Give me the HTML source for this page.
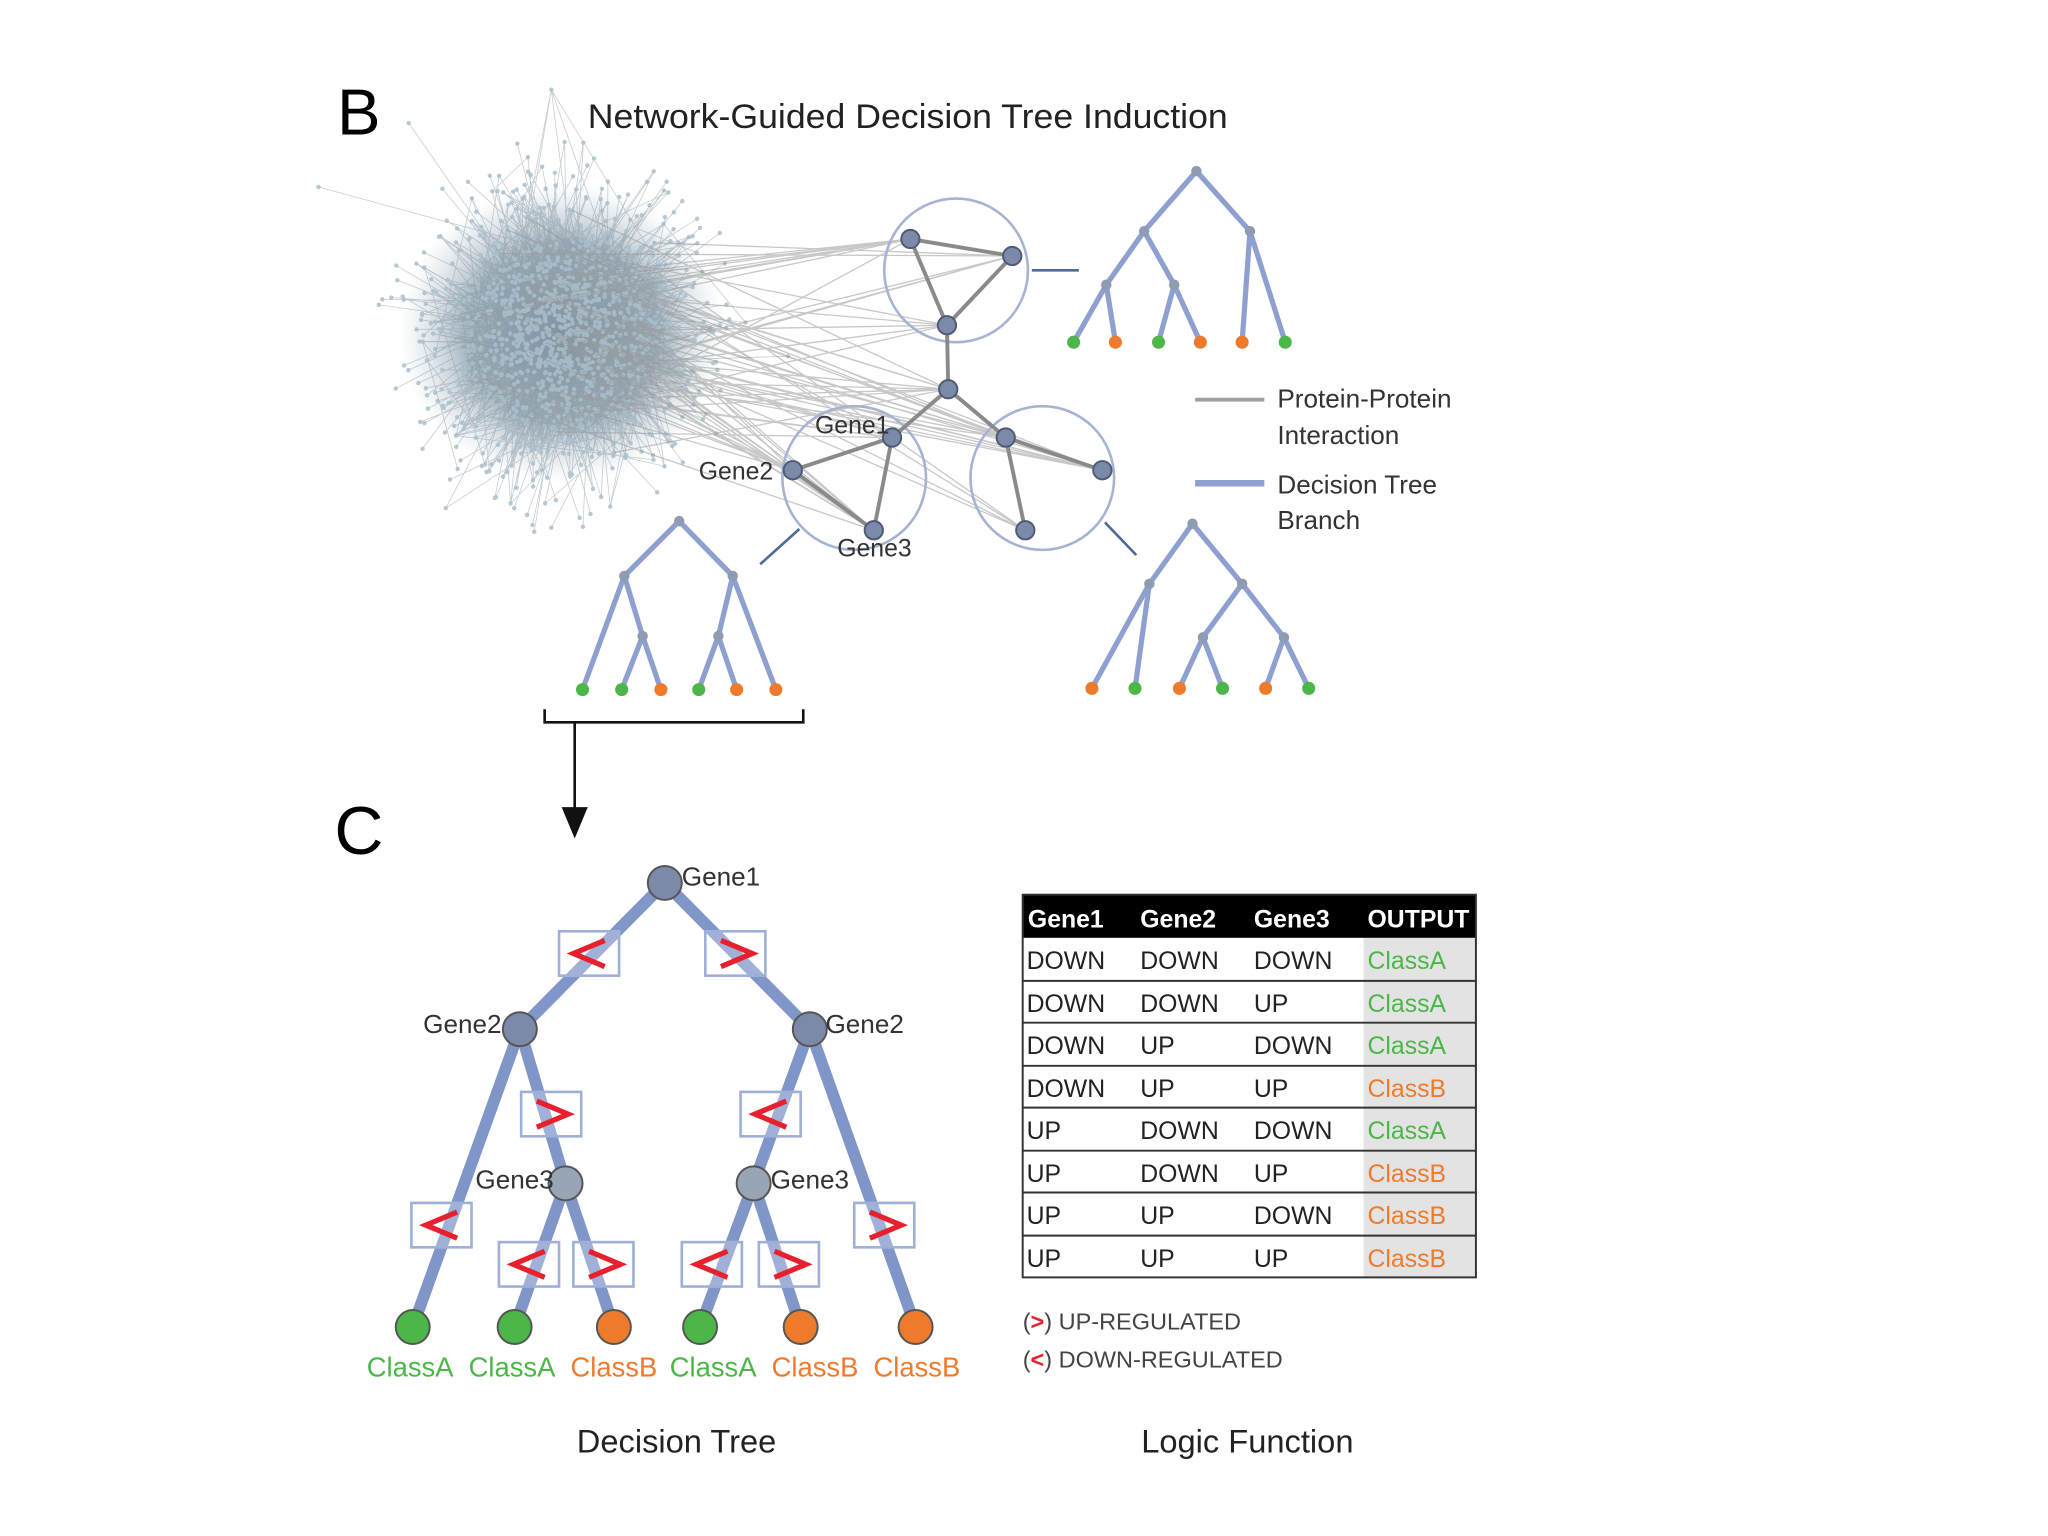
<!DOCTYPE html>
<html><head><meta charset="utf-8"><style>
html,body{margin:0;padding:0;background:#fff;}
svg{display:block;}
text{font-family:"Liberation Sans",sans-serif;}
</style></head><body>
<svg id="s" width="2048" height="1536" viewBox="0 0 1568 1176" xmlns="http://www.w3.org/2000/svg">
<defs>
<radialGradient id="cg" cx="50%" cy="50%" r="50%">
<stop offset="0" stop-color="#8a9aa8"/><stop offset="0.6" stop-color="#9fb1bd" stop-opacity="0.9"/><stop offset="1" stop-color="#c8d4dc" stop-opacity="0"/>
</radialGradient>
</defs>
<rect width="1568" height="1176" fill="#fff"/>
<text x="258" y="103" font-size="50">B</text>
<text x="450" y="98" font-size="26" fill="#222" textLength="490" lengthAdjust="spacingAndGlyphs">Network-Guided Decision Tree Induction</text>
<ellipse cx="430" cy="255" rx="125" ry="115" fill="url(#cg)"/>
<g id="cloud"></g>
<g id="links" stroke="#9a9a9a" stroke-width="1" opacity="0.55"></g>
<g fill="none" stroke="#a7b3d3" stroke-width="2">
<circle cx="732" cy="207" r="55"/><circle cx="654" cy="366" r="55"/><circle cx="798" cy="366" r="55"/>
</g>
<g stroke="#8a8a8a" stroke-width="3">
<line x1="697" y1="183" x2="775" y2="196"/><line x1="697" y1="183" x2="725" y2="249"/><line x1="775" y1="196" x2="725" y2="249"/>
<line x1="725" y1="249" x2="726" y2="298"/><line x1="726" y1="298" x2="683" y2="335"/><line x1="726" y1="298" x2="770" y2="335"/>
<line x1="683" y1="335" x2="607" y2="360"/><line x1="607" y1="360" x2="669" y2="406"/><line x1="683" y1="335" x2="669" y2="406"/>
<line x1="770" y1="335" x2="844" y2="360"/><line x1="770" y1="335" x2="785" y2="406"/>
</g>
<g fill="#7b8aa8" stroke="#4e5a78" stroke-width="1.5">
<circle cx="697" cy="183" r="7"/><circle cx="775" cy="196" r="7"/><circle cx="725" cy="249" r="7"/><circle cx="726" cy="298" r="7"/>
<circle cx="683" cy="335" r="7"/><circle cx="607" cy="360" r="7"/><circle cx="669" cy="406" r="7"/>
<circle cx="770" cy="335" r="7"/><circle cx="844" cy="360" r="7"/><circle cx="785" cy="406" r="7"/>
</g>
<g font-size="19" fill="#333">
<text x="624" y="332">Gene1</text><text x="535" y="367">Gene2</text><text x="641" y="426">Gene3</text>
</g>
<g stroke="#4e6a96" stroke-width="2">
<line x1="790" y1="207" x2="826" y2="207"/><line x1="612" y1="405" x2="582" y2="432"/><line x1="846" y1="400" x2="870" y2="425"/>
</g>
<g stroke="#8da0cf" stroke-width="4" stroke-linecap="round" fill="none">
<path d="M916 131L876 177M916 131L957 177M876 177L847 218M876 177L899 218M847 218L822 262M847 218L854 262M899 218L887 262M899 218L919 262M957 177L951 262M957 177L984 262"/>
<path d="M520 399L478 441M520 399L561 441M478 441L446 528M478 441L492 487M492 487L476 528M492 487L506 528M561 441L594 528M561 441L550 487M550 487L535 528M550 487L564 528"/>
<path d="M913 401L880 447M913 401L951 447M880 447L836 527M880 447L869 527M951 447L921 488M951 447L983 488M921 488L903 527M921 488L936 527M983 488L969 527M983 488L1002 527"/>
</g>
<g fill="#8e9bb0">
<circle cx="916" cy="131" r="4"/><circle cx="876" cy="177" r="4"/><circle cx="957" cy="177" r="4"/><circle cx="847" cy="218" r="4"/><circle cx="899" cy="218" r="4"/>
<circle cx="520" cy="399" r="4"/><circle cx="478" cy="441" r="4"/><circle cx="561" cy="441" r="4"/><circle cx="492" cy="487" r="4"/><circle cx="550" cy="487" r="4"/>
<circle cx="913" cy="401" r="4"/><circle cx="880" cy="447" r="4"/><circle cx="951" cy="447" r="4"/><circle cx="921" cy="488" r="4"/><circle cx="983" cy="488" r="4"/>
</g>
<g>
<circle cx="822" cy="262" r="5" fill="#4cb648"/><circle cx="854" cy="262" r="5" fill="#ee7a2c"/><circle cx="887" cy="262" r="5" fill="#4cb648"/><circle cx="919" cy="262" r="5" fill="#ee7a2c"/><circle cx="951" cy="262" r="5" fill="#ee7a2c"/><circle cx="984" cy="262" r="5" fill="#4cb648"/>
<circle cx="446" cy="528" r="5" fill="#4cb648"/><circle cx="476" cy="528" r="5" fill="#4cb648"/><circle cx="506" cy="528" r="5" fill="#ee7a2c"/><circle cx="535" cy="528" r="5" fill="#4cb648"/><circle cx="564" cy="528" r="5" fill="#ee7a2c"/><circle cx="594" cy="528" r="5" fill="#ee7a2c"/>
<circle cx="836" cy="527" r="5" fill="#ee7a2c"/><circle cx="869" cy="527" r="5" fill="#4cb648"/><circle cx="903" cy="527" r="5" fill="#ee7a2c"/><circle cx="936" cy="527" r="5" fill="#4cb648"/><circle cx="969" cy="527" r="5" fill="#ee7a2c"/><circle cx="1002" cy="527" r="5" fill="#4cb648"/>
</g>
<line x1="915" y1="306" x2="968" y2="306" stroke="#a0a0a0" stroke-width="3"/>
<line x1="915" y1="370" x2="968" y2="370" stroke="#8da0cf" stroke-width="5"/>
<g font-size="20" fill="#333">
<text x="978" y="312">Protein-Protein</text><text x="978" y="340">Interaction</text>
<text x="978" y="378">Decision Tree</text><text x="978" y="405">Branch</text>
</g>
<path d="M417 543V553H615V543" fill="none" stroke="#111" stroke-width="2"/>
<line x1="440" y1="553" x2="440" y2="622" stroke="#111" stroke-width="2"/>
<path d="M430 618L440 642L450 618Z" fill="#111"/>
<text x="256" y="654" font-size="52">C</text>
<g stroke="#8096c8" stroke-width="9" stroke-linecap="round">
<line x1="509" y1="676" x2="398" y2="788"/><line x1="509" y1="676" x2="620" y2="788"/>
<line x1="398" y1="788" x2="316" y2="1016"/><line x1="398" y1="788" x2="433" y2="906"/>
<line x1="433" y1="906" x2="394" y2="1016"/><line x1="433" y1="906" x2="470" y2="1016"/>
<line x1="620" y1="788" x2="577" y2="906"/><line x1="620" y1="788" x2="701" y2="1016"/>
<line x1="577" y1="906" x2="536" y2="1016"/><line x1="577" y1="906" x2="613" y2="1016"/>
</g>
<g fill="#fff" fill-opacity="0.25" stroke="#9eb0d8" stroke-width="2">
<rect x="428" y="713" width="46" height="34"/><rect x="540" y="713" width="46" height="34"/>
<rect x="399" y="836" width="46" height="34"/><rect x="567" y="836" width="46" height="34"/>
<rect x="315" y="921" width="46" height="34"/><rect x="654" y="921" width="46" height="34"/>
<rect x="382" y="951" width="46" height="34"/><rect x="439" y="951" width="46" height="34"/>
<rect x="522" y="951" width="46" height="34"/><rect x="581" y="951" width="46" height="34"/>
</g>
<g fill="none" stroke="#e8202e" stroke-width="4">
<path d="M463 720L439 730L463 740"/><path d="M552 720L576 730L552 740"/>
<path d="M411 843L435 853L411 863"/><path d="M602 843L578 853L602 863"/>
<path d="M350 928L326 938L350 948"/><path d="M666 928L690 938L666 948"/>
<path d="M417 958L393 968L417 978"/><path d="M451 958L475 968L451 978"/>
<path d="M557 958L533 968L557 978"/><path d="M593 958L617 968L593 978"/>
</g>
<g stroke="#555" stroke-width="1.5">
<circle cx="509" cy="676" r="13" fill="#7b8aa8"/><circle cx="398" cy="788" r="13" fill="#7b8aa8"/><circle cx="620" cy="788" r="13" fill="#7b8aa8"/>
<circle cx="433" cy="906" r="13" fill="#98a5b5"/><circle cx="577" cy="906" r="13" fill="#98a5b5"/>
<circle cx="316" cy="1016" r="13" fill="#4cb648"/><circle cx="394" cy="1016" r="13" fill="#4cb648"/><circle cx="470" cy="1016" r="13" fill="#ee7a2c"/>
<circle cx="536" cy="1016" r="13" fill="#4cb648"/><circle cx="613" cy="1016" r="13" fill="#ee7a2c"/><circle cx="701" cy="1016" r="13" fill="#ee7a2c"/>
</g>
<g font-size="20" fill="#333">
<text x="522" y="678">Gene1</text><text x="324" y="791">Gene2</text><text x="632" y="791">Gene2</text>
<text x="364" y="910">Gene3</text><text x="590" y="910">Gene3</text>
</g>
<g font-size="21" text-anchor="middle">
<text x="314" y="1054" fill="#4cb648">ClassA</text><text x="392" y="1054" fill="#4cb648">ClassA</text><text x="470" y="1054" fill="#ee7a2c">ClassB</text>
<text x="546" y="1054" fill="#4cb648">ClassA</text><text x="624" y="1054" fill="#ee7a2c">ClassB</text><text x="702" y="1054" fill="#ee7a2c">ClassB</text>
</g>
<rect x="1044" y="718" width="86" height="260" fill="#e3e3e3"/>
<rect x="783" y="685" width="347" height="33" fill="#000"/>
<g stroke="#333" stroke-width="1.5" fill="none">
<rect x="783" y="685" width="347" height="293"/>
<path d="M783 751H1130M783 783H1130M783 816H1130M783 848H1130M783 881H1130M783 913H1130M783 946H1130"/>
</g>
<g font-size="19" font-weight="bold" fill="#fff">
<text x="787" y="710">Gene1</text><text x="873" y="710">Gene2</text><text x="960" y="710">Gene3</text><text x="1047" y="710">OUTPUT</text>
</g>
<g font-size="19" fill="#222">
<text x="786" y="742">DOWN</text><text x="873" y="742">DOWN</text><text x="960" y="742">DOWN</text>
<text x="786" y="775">DOWN</text><text x="873" y="775">DOWN</text><text x="960" y="775">UP</text>
<text x="786" y="807">DOWN</text><text x="873" y="807">UP</text><text x="960" y="807">DOWN</text>
<text x="786" y="840">DOWN</text><text x="873" y="840">UP</text><text x="960" y="840">UP</text>
<text x="786" y="872">UP</text><text x="873" y="872">DOWN</text><text x="960" y="872">DOWN</text>
<text x="786" y="905">UP</text><text x="873" y="905">DOWN</text><text x="960" y="905">UP</text>
<text x="786" y="937">UP</text><text x="873" y="937">UP</text><text x="960" y="937">DOWN</text>
<text x="786" y="970">UP</text><text x="873" y="970">UP</text><text x="960" y="970">UP</text>
</g>
<g font-size="19">
<text x="1047" y="742" fill="#4cb648">ClassA</text><text x="1047" y="775" fill="#4cb648">ClassA</text>
<text x="1047" y="807" fill="#4cb648">ClassA</text><text x="1047" y="840" fill="#ee7a2c">ClassB</text>
<text x="1047" y="872" fill="#4cb648">ClassA</text><text x="1047" y="905" fill="#ee7a2c">ClassB</text>
<text x="1047" y="937" fill="#ee7a2c">ClassB</text><text x="1047" y="970" fill="#ee7a2c">ClassB</text>
</g>
<g font-size="18" fill="#444">
<text x="783" y="1018">(<tspan fill="#e8202e" font-weight="bold">&gt;</tspan>) UP-REGULATED</text>
<text x="783" y="1047">(<tspan fill="#e8202e" font-weight="bold">&lt;</tspan>) DOWN-REGULATED</text>
</g>
<g font-size="25" fill="#222" text-anchor="middle">
<text x="518" y="1112">Decision Tree</text><text x="955" y="1112">Logic Function</text>
</g>
</svg>
<script>
(function(){
var seed=7;function r(){seed=(seed*16807)%2147483647;return seed/2147483647;}
function g(){var u=r()||1e-6,v=r();return Math.sqrt(-2*Math.log(u))*Math.cos(6.2832*v);}
var NS="http://www.w3.org/2000/svg",cl=document.getElementById("cloud"),lk=document.getElementById("links");
var pts=[];
for(var i=0;i<1200;i++){var x=432+g()*44,y=255+g()*46;pts.push([x,y]);}
for(var i=0;i<150;i++){var a=r()*6.2832,d=85+r()*65;pts.push([430+Math.cos(a)*d*0.95,255+Math.sin(a)*d]);}
var p="";
for(var i=0;i<pts.length;i++){var a=pts[i],q=pts[Math.floor(r()*1200)];
if(i>=1200){var c=[432+(a[0]-432)*0.6+g()*10,255+(a[1]-255)*0.6+g()*10];q=c;}
p+="M"+a[0].toFixed(1)+" "+a[1].toFixed(1)+"L"+q[0].toFixed(1)+" "+q[1].toFixed(1);}
var e=document.createElementNS(NS,"path");e.setAttribute("d",p);e.setAttribute("stroke","#7f8d98");e.setAttribute("stroke-width","0.6");e.setAttribute("opacity","0.45");e.setAttribute("fill","none");cl.appendChild(e);
var dp="";for(var i=0;i<pts.length;i++){var a=pts[i];dp+="M"+(a[0]-1.7).toFixed(1)+" "+a[1].toFixed(1)+"a1.7 1.7 0 1 0 3.4 0a1.7 1.7 0 1 0 -3.4 0";}
var d=document.createElementNS(NS,"path");d.setAttribute("d",dp);d.setAttribute("fill","#a9bfcc");d.setAttribute("opacity","0.85");cl.appendChild(d);
var tg=[[697,183],[775,196],[725,249],[726,298],[683,335],[607,360],[669,406],[770,335],[844,360],[785,406]];
var lp="";for(var i=0;i<70;i++){var a=pts[Math.floor(r()*1200)],t=tg[Math.floor(r()*tg.length)];lp+="M"+a[0].toFixed(1)+" "+a[1].toFixed(1)+"L"+t[0]+" "+t[1];}
var l=document.createElementNS(NS,"path");l.setAttribute("d",lp);l.setAttribute("fill","none");lk.appendChild(l);
})();
</script>
</body></html>
